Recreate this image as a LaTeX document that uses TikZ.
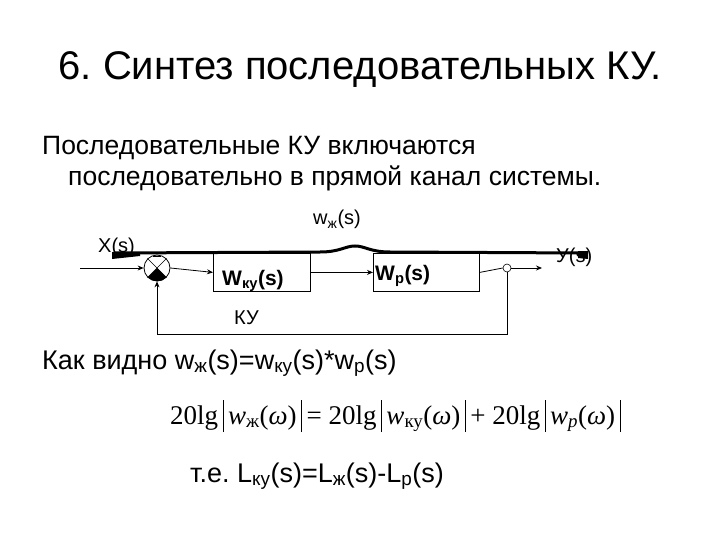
\documentclass[tikz,border=0pt]{standalone}
\usepackage{fontspec}
\setmainfont{Liberation Sans}
\newfontfamily\tnr{Liberation Serif}
\usetikzlibrary{arrows.meta}
\frenchspacing
\newcommand{\myvb}{\,\rule[-8pt]{0.9pt}{32pt}\,}
\begin{document}
\begin{tikzpicture}[x=1pt,y=-1pt,
  blk/.style={draw,line width=0.8pt,minimum width=97pt,minimum height=38pt,inner sep=0},
  sig/.style={line width=0.8pt,-{Stealth[length=6pt,width=5pt]}},
  ln/.style={line width=0.8pt},
  txt/.style={anchor=base west,inner sep=0,font=\fontsize{27}{30}\selectfont},
  lbl/.style={anchor=base west,inner sep=0,font=\fontsize{20}{22}\selectfont}]
\useasboundingbox (0,0) rectangle (720,540);
\node[inner sep=0,font=\fontsize{40}{44}\selectfont] (title) at (360,70) {6. Синтез последовательных КУ.};
\node[txt,font=\fontsize{26.5}{30}\selectfont] (l1) at (42,155) {Последовательные КУ включаются};
\node[txt,font=\fontsize{26.5}{30}\selectfont] (l2) at (68,186) {последовательно в прямой канал системы.};
% diagram
\coordinate (in) at (80,268);
\node[circle,draw,ln,minimum size=26pt,inner sep=0] (sum) at (157,268) {};
\fill (sum.south west) -- (sum.center) -- (sum.south east) arc (-45:-135:13pt) -- cycle;
\draw[line width=0.5pt] (sum.north west) -- (sum.south east) (sum.north east) -- (sum.south west);
\draw[line width=0.6pt] (153,256) -- (161,256);
\node[blk,anchor=north west] (b1) at (213,253) {};
\node[font=\bfseries\fontsize{21}{22}\selectfont,anchor=base west,inner sep=0] (t1) at (222,285) {W\textsubscript{ку}(s)};
\node[blk,anchor=north west,minimum width=106pt] (b2) at (373,253) {};
\node[font=\bfseries\fontsize{21}{22}\selectfont,anchor=base west,inner sep=0] (t2) at (375,280) {W\textsubscript{р}(s)};
\node[circle,draw,line width=0.6pt,minimum size=8pt,inner sep=0] (tap) at (507,268) {};
\coordinate (out) at (542,268);
\coordinate (fb1) at (507,334);
\coordinate (fb2) at (157,334);
\draw[sig] (in) -- (sum.west);
\draw[sig] (sum.east) -- (b1.west);
\draw[sig] (b1.east) -- (b2.west);
\draw[ln] (b2.east) -- (tap.west);
\draw[sig] (tap.east) -- (out);
\draw[ln] (tap.south) -- (fb1) -- (fb2);
\draw[sig] (fb2) -- (sum.south);
% thick overlay line
\coordinate (ta) at (115,253);
\coordinate (tb) at (585,253);
\draw[line width=3pt] (ta) -- (320,252) .. controls (340,252) and (345,246) .. (355,246) .. controls (365,246) and (370,252) .. (390,252) -- (tb);
\fill (112,252) -- (140,252) -- (140,256) -- (112,259) -- cycle;
\fill (578,251) -- (588,251) -- (588,259) -- (578,258) -- cycle;
\node[lbl] (xs) at (98,252) {X(s)};
\node[lbl] (ys) at (556,262) {У(s)};
\node[lbl] (wz) at (313,225) {w\textsubscript{ж}(s)};
\node[lbl] (ku) at (234,324) {КУ};
\node[txt] (l3) at (42,369) {Как видно w\textsubscript{ж}(s)=w\textsubscript{ку}(s)*w\textsubscript{р}(s)};
\node[anchor=base west,inner sep=0,font=\tnr\fontsize{27}{30}\selectfont] (f) at (170,424)
 {20lg\myvb\textit{w}\textsubscript{ж}(\textit{ω})\myvb= 20lg\myvb\textit{w}\textsubscript{ку}(\textit{ω})\myvb+ 20lg\myvb\textit{w}\textsubscript{\textit{p}}(\textit{ω})\myvb};
\node[txt] (l4) at (190,482) {т.е. L\textsubscript{ку}(s)=L\textsubscript{ж}(s)-L\textsubscript{р}(s)};
\end{tikzpicture}
\end{document}
